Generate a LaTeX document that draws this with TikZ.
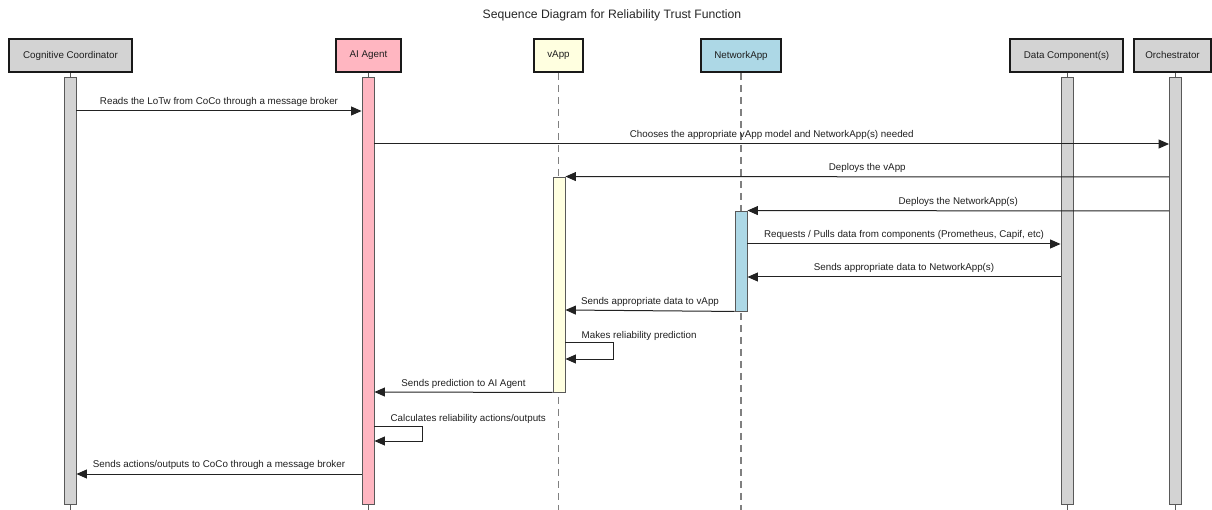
\documentclass[tikz,border=0pt]{standalone}
\usepackage{fontspec}
\setmainfont{Liberation Sans}
\usetikzlibrary{arrows.meta,calc}
\definecolor{cgray}{HTML}{D3D3D3}
\definecolor{cpink}{HTML}{FFB6C1}
\definecolor{cyellow}{HTML}{FFFFE0}
\definecolor{cblue}{HTML}{ADD8E6}
\definecolor{cline}{HTML}{222222}
\definecolor{cdash}{HTML}{808080}
\begin{document}
\begin{tikzpicture}[x=1pt,y=-1pt,
  actor/.style={draw=black!90,line width=1.8pt,minimum height=33pt,inner sep=0pt,font=\fontsize{9.8}{11}\selectfont,text=black!88},
  actbar/.style={draw=black!65,line width=0.9pt,minimum width=12pt,inner sep=0pt},
  stub/.style={draw=black!65,line width=0.9pt},
  life/.style={draw=cdash,line width=1.2pt,dash pattern=on 7pt off 5pt},
  msg/.style={draw=cline,line width=1pt,-{Triangle[length=10.5pt,width=9pt]}},
  lbl/.style={font=\fontsize{9.8}{11}\selectfont,text=black!88,inner sep=0pt}
]
\useasboundingbox (0,0) rectangle (1212,510);
\node[font=\fontsize{12.2}{14}\selectfont,text=black!85] (title) at (612,15) {Sequence Diagram for Reliability Trust Function};

% actor boxes
\node[actor,fill=cgray,minimum width=123pt] (coco) at (70.5,55.5) {Cognitive Coordinator};
\node[actor,fill=cpink,minimum width=65pt] (ai) at (368.5,55.5) {AI Agent};
\node[actor,fill=cyellow,minimum width=49pt] (vapp) at (558.5,55.5) {vApp};
\node[actor,fill=cblue,minimum width=80pt] (na) at (741,55.5) {NetworkApp};
\node[actor,fill=cgray,minimum width=113pt] (dc) at (1066.5,55.5) {Data Component(s)};
\node[actor,fill=cgray,minimum width=77pt] (orch) at (1172.5,55.5) {Orchestrator};

% dashed lifelines
\coordinate (bot) at (0,510);
\draw[life] (vapp.south) -- (vapp.south |- bot);
\draw[life] (na.south) -- (na.south |- bot);

% activation bars
\node[actbar,fill=cgray,minimum height=427pt] (cocobar) at (70,290.5) {};
\node[actbar,fill=cpink,minimum height=427pt] (aibar) at (368,290.5) {};
\node[actbar,fill=cgray,minimum height=427pt] (dcbar) at (1067,290.5) {};
\node[actbar,fill=cgray,minimum height=427pt] (orchbar) at (1175.5,290.5) {};
\node[actbar,fill=cyellow,minimum height=215pt] (vappbar) at (559,284.5) {};
\node[actbar,fill=cblue,minimum height=100pt] (nabar) at (741,261) {};

% solid stubs
\foreach \a/\b in {coco/cocobar,ai/aibar,dc/dcbar,orch/orchbar}{
  \draw[stub] (\b.north) -- (\b.north |- \a.south);
  \draw[stub] (\b.south) -- (\b.south |- bot);
}

% message rows
\coordinate (r1) at (0,111);
\coordinate (r2) at (0,144);
\coordinate (r3) at (0,177);
\coordinate (r4) at (0,211);
\coordinate (r5) at (0,244);
\coordinate (r6) at (0,277);
\coordinate (r7) at (0,310);
\coordinate (r8) at (0,343);
\coordinate (r8b) at (0,359);
\coordinate (r9) at (0,392);
\coordinate (r10) at (0,426);
\coordinate (r10b) at (0,441);
\coordinate (r11) at (0,474);

\draw[msg] (cocobar.east |- r1) -- node[lbl,above=3.5pt] {Reads the LoTw from CoCo through a message broker} (aibar.west |- r1);
\draw[msg] (aibar.east |- r2) -- node[lbl,above=3.5pt] {Chooses the appropriate vApp model and NetworkApp(s) needed} (orchbar.west |- r2);
\draw[msg] (orchbar.west |- r3) -- node[lbl,above=3.5pt] {Deploys the vApp} (vappbar.north east);
\draw[msg] (orchbar.west |- r4) -- node[lbl,above=3.5pt] {Deploys the NetworkApp(s)} (nabar.north east);
\draw[msg] (nabar.east |- r5) -- node[lbl,above=3.5pt] {Requests / Pulls data from components (Prometheus, Capif, etc)} (dcbar.west |- r5);
\draw[msg] (dcbar.west |- r6) -- node[lbl,above=3.5pt] {Sends appropriate data to NetworkApp(s)} (nabar.east |- r6);
\draw[msg] (nabar.south west) -- node[lbl,above=3.5pt] {Sends appropriate data to vApp} (vappbar.east |- r7);
\draw[msg] (vappbar.east |- r8) -- ++(48,0) coordinate (l1) -- (l1 |- r8b) -- (vappbar.east |- r8b);
\node[lbl,anchor=south west] (l1t) at ($(vappbar.east |- r8)+(16,-2)$) {Makes reliability prediction};
\draw[msg] (vappbar.south west) -- node[lbl,above=3.5pt] {Sends prediction to AI Agent} (aibar.east |- r9);
\draw[msg] (aibar.east |- r10) -- ++(48,0) coordinate (l2) -- (l2 |- r10b) -- (aibar.east |- r10b);
\node[lbl,anchor=south west] (l2t) at ($(aibar.east |- r10)+(16,-2)$) {Calculates reliability actions/outputs};
\draw[msg] (aibar.west |- r11) -- node[lbl,above=3.5pt] {Sends actions/outputs to CoCo through a message broker} (cocobar.east |- r11);
\end{tikzpicture}
\end{document}
